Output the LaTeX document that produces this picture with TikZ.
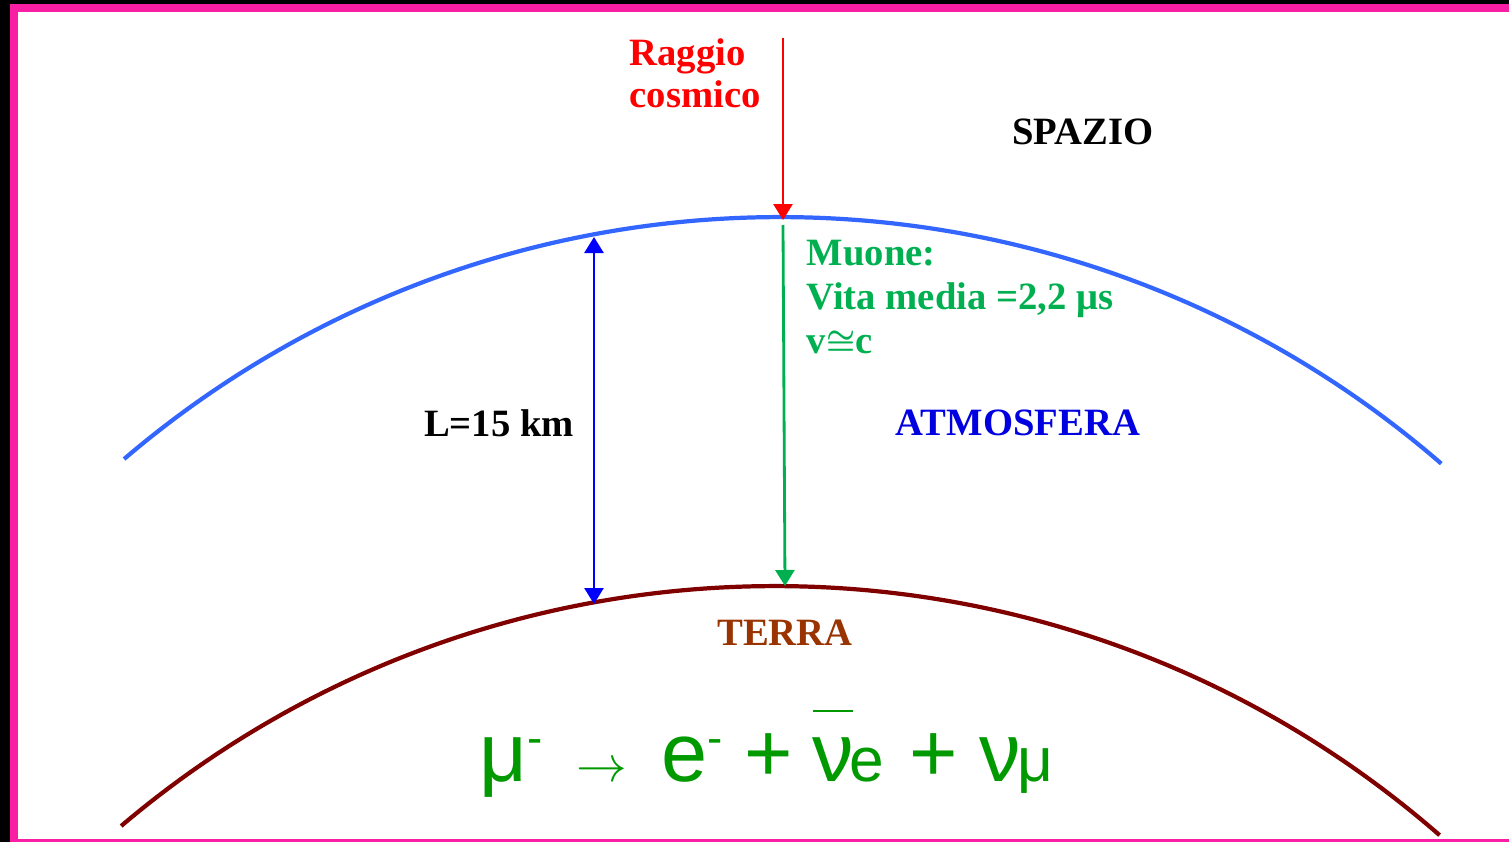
\documentclass[tikz,border=0pt]{standalone}
\usepackage{fontspec}
\setmainfont{Liberation Serif}
\newfontfamily\eqfont{Liberation Sans}
\usetikzlibrary{arrows.meta,positioning,calc}
\definecolor{framepink}{RGB}{250,30,165}
\definecolor{atmblue}{RGB}{51,102,255}
\definecolor{labelblue}{RGB}{0,0,225}
\definecolor{muongreen}{RGB}{0,176,80}
\definecolor{eqgreen}{RGB}{0,153,0}
\definecolor{earthred}{RGB}{128,0,0}
\definecolor{terrabrown}{RGB}{153,51,0}
\newcommand{\barnu}{\makebox[0pt][l]{\hspace{0.006cm}\rule[0.69cm]{0.40cm}{0.02cm}}ν}
\newcommand{\supdash}{\raisebox{0.28cm}{\fontsize{13}{13}\selectfont -}}
\newcommand{\subsz}{\fontsize{17.7}{18}\selectfont}

\begin{document}
\begin{tikzpicture}[
    lbl/.style={font=\fontsize{11}{11.7}\selectfont\bfseries, inner sep=0pt},
    tip/.style={-{Triangle[length=1.6mm, width=1.9mm]}, line width=0.8pt}
  ]
    \useasboundingbox (0,0) rectangle (15.09,8.42);
    % frame
    \fill[black] (0,0) rectangle (15.09,8.42);
    \fill[framepink] (0.10,0) rectangle (15.09,8.38);
    \fill[white] (0.18,0.03) rectangle (15.09,8.30);

    % atmosphere and earth
    \coordinate (atmc) at (7.80,-3.85);
    \coordinate (earthc) at (7.75,-7.55);
    \draw[atmblue, line width=1.2pt] (atmc) ++(130.5:10.1) arc[start angle=130.5, end angle=49.1, radius=10.1];
    \draw[earthred, line width=1.2pt] (earthc) ++(130.3:10.11) arc[start angle=130.3, end angle=48.9, radius=10.11];

    % arrows
    \coordinate (raytop) at (7.83,8.04);
    \coordinate (atmtop) at (7.83,6.22);
    \coordinate (muontop) at (7.83,6.17);
    \coordinate (groundtop) at (7.85,2.56);
    \coordinate (Ltop) at (5.94,6.05);
    \coordinate (Lbot) at (5.94,2.38);
    \draw[tip, red] (raytop) -- (atmtop);
    \draw[tip, muongreen] (muontop) -- (groundtop);
    \draw[{Triangle[length=1.6mm, width=1.9mm]}-{Triangle[length=1.6mm, width=1.9mm]}, line width=0.8pt, blue] (Ltop) -- (Lbot);

    % labels
    \node[lbl, red, anchor=base west, align=left] (ray) at (6.29,7.35) {Raggio\\cosmico};
    \node[lbl, anchor=center] (space) at (10.83,7.10) {SPAZIO};
    \node[lbl, font=\fontsize{11}{12.4}\selectfont\bfseries, muongreen, anchor=base west, align=left] (muon) at (8.06,4.89)
      {Muone:\\Vita media =2,2 μs\\v{\fontsize{9.5}{9.5}\selectfont\boldmath$\cong$}c};
    \node[lbl, labelblue, anchor=center] (atm) at (10.18,4.19) {ATMOSFERA};
    \node[lbl, anchor=center] (len) at (4.99,4.19) {L=15 km};
    \node[lbl, terrabrown, anchor=center] (terra) at (7.85,2.09) {TERRA};

    % decay
    \node[eqgreen, anchor=base west, inner sep=0pt, font=\eqfont\fontsize{23.6}{24}\selectfont] (decay) at (4.79,0.61)
      {μ\supdash\hspace{0.34cm}{\fontsize{15.5}{16}\selectfont$\rightarrow$}\hspace{0.337cm}e\supdash\hspace{0.22cm}+\hspace{0.20cm}\barnu\hspace{-0.05cm}{\subsz e}\hspace{0.26cm}+\hspace{0.21cm}ν\hspace{-0.03cm}{\subsz μ}};
\end{tikzpicture}
\end{document}
